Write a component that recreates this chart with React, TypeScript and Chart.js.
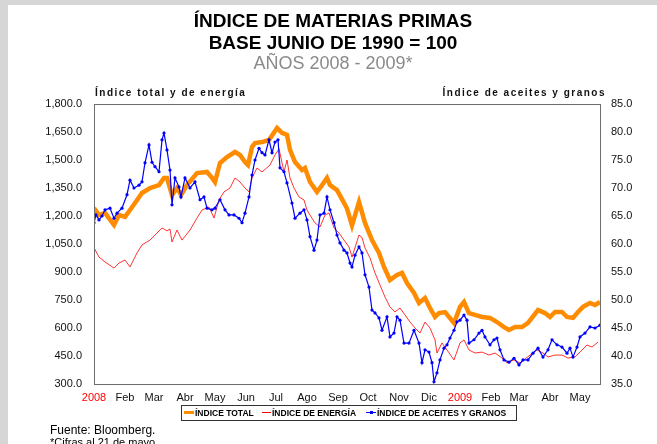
import React, { useEffect, useRef } from "react";
import { Chart, registerables } from "chart.js";

Chart.register(...registerables);

// Days counted from 1 Jan 2008 (0) to 21 May 2009 (506)
const monthDays = [0, 31, 60, 91, 121, 152, 182, 213, 244, 274, 305, 335, 366, 397, 425, 456, 486];
const monthLabels = ["2008", "Feb", "Mar", "Abr", "May", "Jun", "Jul", "Ago", "Sep", "Oct", "Nov", "Dic", "2009", "Feb", "Mar", "Abr", "May"];

const leftTicks = [300, 450, 600, 750, 900, 1050, 1200, 1350, 1500, 1650, 1800];
const rightTicks = [35, 40, 45, 50, 55, 60, 65, 70, 75, 80, 85];

const seriesNames = ["ÍNDICE TOTAL", "ÍNDICE DE ENERGÍA", "ÍNDICE DE ACEITES Y GRANOS"];

const totalDays = [0, 5, 11, 20, 25, 31, 36, 41, 48, 56, 65, 70, 73, 78, 83, 87, 93, 103, 113, 118, 121, 126, 133, 141, 146, 151, 154, 158, 161, 168, 175, 183, 188, 193, 196, 201, 208, 211, 216, 223, 226, 233, 236, 243, 250, 253, 258, 265, 271, 278, 285, 290, 296, 303, 308, 313, 320, 325, 331, 336, 341, 345, 351, 360, 366, 370, 375, 381, 388, 396, 403, 410, 415, 421, 428, 434, 444, 451, 456, 461, 468, 473, 479, 484, 489, 496, 501, 506];
const totalValues = [1243, 1205, 1216, 1152, 1205, 1195, 1232, 1270, 1323, 1350, 1366, 1404, 1404, 1312, 1350, 1312, 1366, 1430, 1436, 1404, 1382, 1484, 1516, 1543, 1527, 1489, 1473, 1570, 1591, 1596, 1607, 1671, 1645, 1634, 1554, 1489, 1446, 1457, 1382, 1329, 1350, 1404, 1366, 1339, 1270, 1240, 1150, 1275, 1163, 1071, 1002, 927, 857, 884, 895, 841, 788, 734, 761, 707, 660, 680, 685, 627, 713, 739, 680, 670, 659, 654, 632, 605, 589, 605, 605, 627, 696, 680, 659, 686, 686, 659, 654, 686, 713, 734, 723, 739];

const energyDays = [0, 5, 11, 20, 25, 31, 36, 43, 48, 56, 61, 68, 73, 76, 78, 83, 88, 96, 103, 108, 115, 120, 125, 130, 136, 141, 146, 151, 155, 158, 163, 168, 176, 181, 185, 190, 193, 196, 200, 205, 210, 213, 216, 221, 226, 231, 235, 240, 245, 250, 255, 258, 265, 268, 271, 276, 281, 286, 291, 296, 301, 306, 311, 316, 321, 326, 331, 336, 341, 343, 348, 353, 360, 366, 370, 375, 381, 388, 395, 401, 408, 413, 420, 426, 436, 443, 449, 454, 461, 468, 474, 481, 486, 493, 498, 504];
const energyValues = [1030, 980, 954, 921, 948, 964, 927, 1002, 1045, 1071, 1098, 1136, 1120, 1130, 1061, 1125, 1071, 1125, 1189, 1232, 1248, 1189, 1286, 1329, 1350, 1404, 1382, 1350, 1329, 1404, 1457, 1436, 1473, 1527, 1560, 1436, 1500, 1404, 1350, 1302, 1286, 1232, 1205, 1163, 1141, 1205, 1216, 1136, 1109, 1071, 1034, 980, 1098, 1085, 1029, 975, 895, 830, 766, 713, 686, 707, 670, 632, 600, 573, 632, 600, 536, 466, 520, 482, 429, 520, 536, 482, 466, 471, 455, 466, 439, 413, 429, 413, 455, 482, 466, 445, 455, 455, 439, 445, 471, 509, 498, 525];

const grainsDays = [0, 2, 5, 8, 11, 16, 20, 23, 28, 33, 36, 40, 45, 48, 51, 55, 58, 61, 65, 68, 70, 73, 76, 78, 81, 85, 87, 91, 96, 101, 106, 110, 113, 118, 121, 126, 131, 135, 140, 145, 148, 151, 155, 158, 161, 165, 168, 171, 175, 178, 181, 184, 186, 190, 193, 198, 201, 206, 210, 213, 216, 220, 223, 226, 230, 233, 236, 240, 243, 246, 250, 253, 256, 258, 261, 265, 268, 271, 275, 278, 281, 285, 288, 293, 296, 300, 303, 306, 310, 315, 320, 325, 328, 331, 335, 338, 340, 343, 346, 350, 353, 356, 360, 363, 366, 370, 373, 375, 380, 385, 388, 391, 396, 400, 403, 406, 410, 415, 420, 425, 429, 434, 439, 444, 449, 454, 458, 463, 468, 473, 476, 479, 483, 486, 491, 496, 501, 506];
const grainsValues = [63.8, 65.2, 64.3, 65.0, 66.1, 66.4, 64.6, 65.5, 66.4, 68.8, 71.4, 70.0, 70.5, 71.1, 74.5, 77.7, 74.6, 73.8, 72.9, 78.6, 79.8, 76.8, 73.2, 67.0, 71.8, 70.2, 68.4, 71.8, 70.0, 71.1, 67.9, 68.4, 66.4, 66.1, 66.4, 67.9, 66.1, 65.2, 65.2, 64.6, 63.8, 65.5, 68.4, 72.3, 75.0, 77.1, 76.3, 75.9, 78.6, 76.3, 78.2, 78.6, 73.6, 72.9, 70.9, 67.3, 64.6, 65.5, 66.1, 64.3, 61.3, 58.9, 60.7, 65.2, 65.5, 68.4, 66.1, 63.8, 61.6, 60.2, 58.9, 58.4, 56.6, 55.9, 58.0, 59.5, 58.4, 54.5, 52.3, 48.2, 47.7, 46.8, 44.6, 47.0, 43.4, 44.1, 47.0, 46.4, 42.3, 42.3, 44.6, 42.3, 38.8, 41.1, 40.7, 38.8, 35.4, 37.0, 39.3, 41.4, 42.0, 43.2, 44.6, 46.1, 46.4, 47.3, 46.4, 42.3, 42.9, 44.1, 44.6, 43.4, 42.0, 42.9, 43.2, 41.1, 39.3, 38.9, 39.6, 38.4, 39.3, 39.3, 40.5, 41.4, 39.8, 41.1, 42.9, 42.0, 41.6, 40.5, 41.4, 39.8, 41.6, 43.4, 44.1, 45.2, 45.0, 45.5];

const ORANGE = "#ff8c00";
const RED = "rgba(255,0,0,0.8)";
const BLUE = "#0000ff";
const FONT = "'Liberation Sans', Arial, sans-serif";

const toXY = (days: number[], vals: number[]) => days.map((d, i) => ({ x: d, y: vals[i] }));

const framePlugin = {
  id: "frame",
  afterDatasetsDraw(chart: any) {
    const { ctx, chartArea: a } = chart;
    ctx.save();
    ctx.strokeStyle = "#6e6e6e";
    ctx.lineWidth = 1;
    ctx.strokeRect(Math.round(a.left) + 0.5, Math.round(a.top) + 0.5, Math.round(a.right - a.left), Math.round(a.bottom - a.top));
    ctx.restore();
  },
};

function ChartCanvas() {
  const ref = useRef<HTMLCanvasElement | null>(null);
  useEffect(() => {
    if (!ref.current) return;
    const chart = new Chart(ref.current, {
      type: "line",
      data: {
        datasets: [
          {
            label: seriesNames[2],
            data: toXY(grainsDays, grainsValues),
            yAxisID: "y1",
            borderColor: BLUE,
            backgroundColor: BLUE,
            borderWidth: 1.2,
            pointRadius: 1.6,
            pointBorderWidth: 0,
            pointBackgroundColor: BLUE,
            tension: 0,
            order: 0,
          },
          {
            label: seriesNames[0],
            data: toXY(totalDays, totalValues),
            yAxisID: "y",
            borderColor: ORANGE,
            backgroundColor: ORANGE,
            borderWidth: 4.5,
            pointRadius: 0,
            tension: 0,
            order: 1,
          },
          {
            label: seriesNames[1],
            data: toXY(energyDays, energyValues),
            yAxisID: "y",
            borderColor: RED,
            backgroundColor: RED,
            borderWidth: 1,
            pointRadius: 0,
            tension: 0,
            order: 2,
          },
        ],
      },
      options: {
        animation: false,
        responsive: false,
        devicePixelRatio: 1,
        layout: { padding: { top: 104, left: 0, right: 0, bottom: 0 } },
        plugins: { legend: { display: false }, tooltip: { enabled: false } },
        scales: {
          x: {
            type: "linear",
            position: "bottom",
            min: 0,
            max: 506,
            grid: { display: false, drawTicks: false },
            border: { display: false },
            afterFit: (s: any) => { s.height = 26; },
            afterBuildTicks: (s: any) => { s.ticks = monthDays.map((v) => ({ value: v })); },
            ticks: {
              autoSkip: false,
              maxRotation: 0,
              minRotation: 0,
              padding: 7,
              font: { family: FONT, size: 11 },
              color: (c: any) => (c.index === 0 || c.index === 12 ? "#ff0000" : "#111"),
              callback: (_v: any, i: number) => monthLabels[i],
            },
          },
          y: {
            position: "left",
            min: 300,
            max: 1800,
            grid: { display: false, drawTicks: false },
            border: { display: false },
            afterFit: (s: any) => { s.width = 94; },
            afterBuildTicks: (s: any) => { s.ticks = leftTicks.map((v) => ({ value: v })); },
            ticks: {
              padding: 12,
              font: { family: FONT, size: 11 },
              color: "#111",
              callback: (v: any) => Number(v).toLocaleString("en-US", { minimumFractionDigits: 1, maximumFractionDigits: 1 }),
            },
          },
          y1: {
            position: "right",
            min: 35,
            max: 85,
            grid: { display: false, drawTicks: false },
            border: { display: false },
            afterFit: (s: any) => { s.width = 57; },
            afterBuildTicks: (s: any) => { s.ticks = rightTicks.map((v) => ({ value: v })); },
            ticks: {
              padding: 11,
              font: { family: FONT, size: 11 },
              color: "#111",
              callback: (v: any) => Number(v).toFixed(1),
            },
          },
        },
      },
      plugins: [framePlugin],
    } as any);
    return () => chart.destroy();
  }, []);
  return <canvas ref={ref} width={657} height={410} style={{ position: "absolute", left: 0, top: 0, width: 657, height: 410 }} />;
}

const abs = (o: React.CSSProperties): React.CSSProperties => ({ position: "absolute", whiteSpace: "nowrap", ...o });

export default function App() {
  const legendText: React.CSSProperties = { fontFamily: FONT, fontWeight: 700, fontSize: 8.5, color: "#000", lineHeight: "14px" };
  return (
    <div style={{ position: "fixed", left: 0, top: 0, width: 657, height: 444, background: "#d6d6d6", overflow: "hidden" }}>
      <div style={{ position: "absolute", left: 8, top: 5, right: 0, bottom: 0, background: "#fff" }} />
      <ChartCanvas />
      <div style={abs({ left: 0, width: 666, top: 10, textAlign: "center", fontFamily: FONT, fontWeight: 700, fontSize: 19, lineHeight: "21px", color: "#000" })}>ÍNDICE DE MATERIAS PRIMAS</div>
      <div style={abs({ left: 0, width: 666, top: 32, textAlign: "center", fontFamily: FONT, fontWeight: 700, fontSize: 19, lineHeight: "21px", color: "#000" })}>BASE JUNIO DE 1990 = 100</div>
      <div style={abs({ left: 0, width: 666, top: 53, textAlign: "center", fontFamily: FONT, fontWeight: 400, fontSize: 18, lineHeight: "21px", color: "#8a8a8a" })}>AÑOS 2008 - 2009*</div>
      <div style={abs({ left: 95, top: 86, fontFamily: FONT, fontWeight: 700, fontSize: 10, letterSpacing: 1.5, lineHeight: "14px", color: "#111" })}>Índice total y de energía</div>
      <div style={abs({ right: 51, top: 86, fontFamily: FONT, fontWeight: 700, fontSize: 10, letterSpacing: 1.5, lineHeight: "14px", color: "#111" })}>Índice de aceites y granos</div>
      <div style={abs({ left: 181, top: 405, width: 336, height: 16, border: "1px solid #333", boxSizing: "border-box", background: "#fff" })}>
        <div style={abs({ left: 2, top: 5, width: 10, height: 3, background: ORANGE })} />
        <div style={abs({ left: 13, top: 0, ...legendText })}>{seriesNames[0]}</div>
        <div style={abs({ left: 80, top: 6, width: 9, height: 1, background: "#ff0000" })} />
        <div style={abs({ left: 90, top: 0, ...legendText })}>{seriesNames[1]}</div>
        <div style={abs({ left: 184, top: 6, width: 10, height: 1, background: BLUE })} />
        <div style={abs({ left: 188, top: 5, width: 3, height: 3, background: BLUE })} />
        <div style={abs({ left: 195, top: 0, ...legendText })}>{seriesNames[2]}</div>
      </div>
      <div style={abs({ left: 50, top: 423, fontFamily: FONT, fontSize: 12, lineHeight: "14px", color: "#000" })}>Fuente: Bloomberg.</div>
      <div style={abs({ left: 50, top: 435, fontFamily: FONT, fontSize: 11, lineHeight: "14px", color: "#000" })}>*Cifras al 21 de mayo.</div>
    </div>
  );
}
